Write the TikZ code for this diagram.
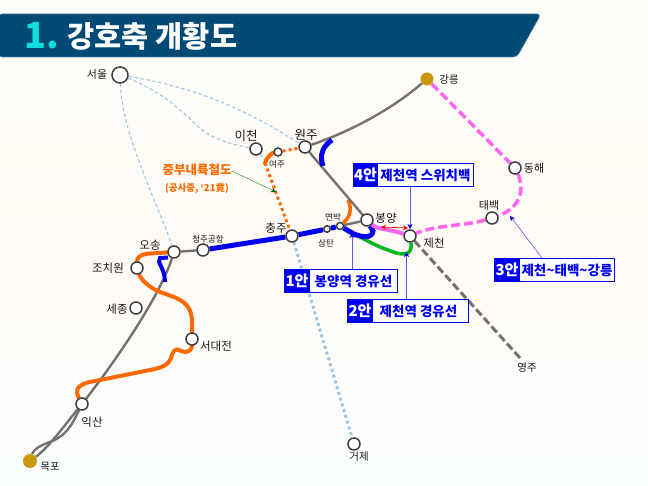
\documentclass[tikz,border=0pt]{standalone}
\usepackage{fontspec}
\setmainfont{Noto Sans CJK KR}
\usetikzlibrary{arrows.meta,calc}
\definecolor{navy}{HTML}{004A75}
\definecolor{cyanx}{HTML}{10DDDD}
\definecolor{ring}{HTML}{3E3E3E}
\definecolor{goldx}{HTML}{C9980F}
\definecolor{grayline}{HTML}{77716E}
\definecolor{sky}{HTML}{9CC6E8}
\definecolor{orangex}{HTML}{FF6A00}
\definecolor{pinkx}{HTML}{FF66EE}
\definecolor{greenx}{HTML}{00B81E}
\definecolor{bluex}{HTML}{0000F0}
\definecolor{ptr}{HTML}{5A5AF5}
\pgfdeclarelayer{bgl}
\pgfdeclarelayer{linel}
\pgfsetlayers{bgl,linel,main}
\tikzset{
  x=1pt,y=-1pt,
  st/.style={circle,draw=ring,line width=1.5pt,fill=white,inner sep=0pt,minimum size=#1},
  st/.default=11pt,
  gold/.style={circle,fill=goldx,inner sep=0pt,minimum size=#1},
  lab/.style={inner sep=0pt,text=black!90,font=\fontsize{#1}{#1}\selectfont},
  lab/.default=11pt,
  skydash/.style={draw=sky,line width=1.1pt,dash pattern=on 3.5pt off 2.5pt},
  skydot/.style={draw=sky,line width=3pt,dash pattern=on 3pt off 3pt},
  grayl/.style={draw=grayline,line width=2.4pt},
  graydash/.style={draw=grayline,line width=3pt,dash pattern=on 8pt off 3.5pt},
  orl/.style={draw=orangex,line width=4pt,line cap=round},
  ordot/.style={draw=orangex,line width=3pt,dash pattern=on 3pt off 3pt},
  pinkd/.style={draw=pinkx,line width=3.5pt,dash pattern=on 9pt off 4pt},
  pinkl/.style={draw=pinkx,line width=4pt},
  bluel/.style={draw=bluex,line width=5pt},
  greenl/.style={draw=greenx,line width=3.5pt},
  ptrl/.style={draw=ptr,line width=.6pt,-{Stealth[length=5pt,width=5pt,color=bluex]}},
  tag/.style={anchor=north west,fill=bluex,draw=bluex,line width=1pt,text=white,inner sep=0pt,font=\fontsize{15}{15}\selectfont\bfseries},
  body/.style={anchor=north west,fill=white,draw=bluex,line width=1pt,text=bluex,inner sep=0pt,font=\fontsize{13.5}{14}\selectfont\bfseries},
}
\begin{document}
\begin{tikzpicture}
\useasboundingbox (0,0) rectangle (648,486);
% stations
\node[st=16pt] (seoul) at (120,75) {};
\node[gold=13pt] (gangneung) at (427,79) {};
\node[st=12pt] (wonju) at (305,147) {};
\node[st=12pt] (icheon) at (256,149) {};
\node[st=8pt] (yeoju) at (278,152) {};
\node[st=12pt] (chungju) at (292,236) {};
\node[st=7pt] (yeonbak) at (340,226) {};
\node[st=6.5pt] (samtan) at (327,229) {};
\node[st=12pt] (bongyang) at (367,220) {};
\node[st=12pt] (jecheon) at (410,236) {};
\node[st=12pt] (donghae) at (515,168) {};
\node[st=12pt] (taebaek) at (492,218) {};
\node[st=12pt] (osong) at (174,252) {};
\node[st=12pt] (airport) at (203,250) {};
\node[st=12pt] (jochiwon) at (137,268) {};
\node[st=12pt] (sejong) at (136,308) {};
\node[st=12pt] (seodaejeon) at (192,339) {};
\node[st=12pt] (iksan) at (82,404) {};
\node[gold=14pt] (mokpo) at (30,461) {};
\node[st=12pt] (geoje) at (354,444) {};
\coordinate (yeongju) at (520,358);
% labels
\node[lab=11pt] (lseoul) at (97,74) {서울};
\node[lab=10.5pt] (lgang) at (449,80) {강릉};
\node[lab=12.5pt] (lwon) at (306,135) {원주};
\node[lab=12.5pt] (lice) at (246,136) {이천};
\node[lab=8.5pt] (lyeo) at (277,164) {여주};
\node[lab=11.5pt] (lchung) at (276,228) {충주};
\node[lab=8.5pt] (lyeon) at (333,217) {연박};
\node[lab=8.5pt] (lsam) at (326,243) {삼탄};
\node[lab=11.5pt] (lbong) at (386,218) {봉양};
\node[lab=11.5pt] (ljec) at (434,243) {제천};
\node[lab=11pt] (ldong) at (534,168) {동해};
\node[lab=11pt] (ltae) at (489,205) {태백};
\node[lab=11.5pt] (losong) at (150,245) {오송};
\node[lab=8.5pt] (lair) at (208,239) {청주공항};
\node[lab=11.5pt] (ljo) at (108,268) {조치원};
\node[lab=11.5pt] (lse) at (117,309) {세종};
\node[lab=11.5pt] (lseo) at (216,346) {서대전};
\node[lab=11.5pt] (lik) at (92,422) {익산};
\node[lab=10.5pt] (lmok) at (50,467) {목포};
\node[lab=10.5pt] (lgeo) at (359,457) {거제};
\node[lab=10.5pt] (lyeong) at (527,368) {영주};
% note
\node[inner sep=0pt,text=orangex,font=\fontsize{12.5}{13}\selectfont\bfseries] (jb) at (197,170) {중부내륙철도};
\node[inner sep=0pt,text=orangex,font=\fontsize{9.5}{10}\selectfont\bfseries] (jb2) at (197,189) {(공사중, `21竟)};
\coordinate (jbtip) at (276,192);
% boxes
\node[body,minimum width=96pt,minimum height=23pt] (b4) at (377,163) {제천역 스위치백};
\node[tag,minimum width=24pt,minimum height=23pt] (t4) at (353,163) {4안};
\node[body,minimum width=88pt,minimum height=23pt] (b1) at (309,269) {봉양역 경유선};
\node[tag,minimum width=25pt,minimum height=23pt] (t1) at (284,269) {1안};
\node[body,minimum width=96pt,minimum height=23pt] (b2) at (372,299) {\hspace{-4pt}제천역 경유선};
\node[tag,minimum width=25pt,minimum height=23pt] (t2) at (347,299) {2안};
\node[body,minimum width=95pt,minimum height=23pt] (b3) at (519,258) {제천\textasciitilde 태백\textasciitilde 강릉};
\node[tag,minimum width=25pt,minimum height=23pt] (t3) at (494,258) {3안};
\coordinate (tip4) at (410,229);
\coordinate (tip1) at (352,233);
\coordinate (tip2) at (406.5,252);
\coordinate (tip3) at (510,216);
\coordinate (tipL) at (381,227);
\coordinate (tipR) at (408,228);
\begin{pgfonlayer}{bgl}
\shade[top color=white!60!yellow!6!white,bottom color=black!6!cyan!2!white,middle color=white!96!orange] (0,0) rectangle (648,486);
\fill[navy,draw=navy!70!white,line width=.6pt,rounded corners=4pt] (-2,14) -- (541,14) -- (517,57) -- (-2,57) -- cycle;
\end{pgfonlayer}
\node[inner sep=0pt,anchor=west,text=cyanx,font=\fontsize{36}{36}\selectfont\bfseries] (num) at (24,35.5) {1.};
\node[inner sep=0pt,anchor=center,text=white,font=\fontsize{29.5}{30}\selectfont\bfseries] (title) at (152.5,36) {강호축 개황도};
\begin{pgfonlayer}{linel}
% light-blue dashed
\draw[skydash] (seoul) .. controls (200,88) and (250,112) .. (wonju);
\draw[skydash] (seoul) .. controls (170,95) and (190,120) .. (202,130) .. controls (215,140) and (235,145) .. (icheon);
\draw[skydash] (icheon) -- (266,162);
\draw[skydash] (seoul) .. controls (122,120) and (135,150) .. (150,190) .. controls (158,210) and (166,228) .. (osong);
\draw[skydot] (chungju) -- (geoje);
% orange under gray
\draw[draw=orangex,line width=3.5pt] (348,200) .. controls (353,210) and (349,218) .. (yeonbak);
% gray
\draw[grayl] (wonju) -- (bongyang);
\draw[grayl] (wonju) .. controls (340,135) and (385,115) .. (gangneung);
\draw[grayl] (bongyang) -- (yeonbak);
\draw[grayl] (osong) -- (airport);
\draw[grayl] (osong) .. controls (160,295) and (120,355) .. (iksan);
\draw[grayl] (iksan) .. controls (65,425) and (48,448) .. (mokpo);
\draw[grayl] (iksan) .. controls (72,425) and (66,437) .. (47,443) .. controls (37,447) and (33,451) .. (mokpo);
\draw[graydash] (jecheon) -- (yeongju);
% orange
\draw[orl] (osong) -- (150,253.5) .. controls (140,254) and (137,258) .. (jochiwon);
\draw[orl] (jochiwon) .. controls (141,280) and (150,288) .. (160,292) .. controls (180,299) and (192,302) .. (192,323) -- (seodaejeon);
\draw[orl] (seodaejeon) .. controls (192,350) and (187,354) .. (181,351) .. controls (174,347) and (173,352) .. (171,358) .. controls (168,366) and (160,368) .. (150,370) -- (95,381) .. controls (82,383) and (73,387) .. (iksan);
\draw[orl] (yeoju) .. controls (272,153) and (267,157) .. (265,163);
\draw[ordot] (265,163) -- (chungju);
\draw[ordot] (yeoju) -- (wonju);
% green
\draw[greenl] (345,229) .. controls (362,238) and (378,247) .. (388,250) .. controls (400,255) and (413,258) .. (jecheon);
% blue
\draw[bluel] (airport) -- (chungju);
\draw[bluel] (chungju) -- (samtan) -- (yeonbak);
\draw[bluel] (yeonbak) -- (354,234) .. controls (364,238) and (372,238) .. (373,231) -- (bongyang);
\draw[bluel] (332,140) .. controls (323,146) and (319,155) .. (323,166);
\draw[bluel,line width=4pt] (168,257.5) -- (160,258) .. controls (156,262) and (165,268) .. (165,282);
% pink
\draw[pinkl] (bongyang) .. controls (378,230) and (390,229) .. (jecheon);
\draw[pinkd] (gangneung) -- (donghae);
\draw[pinkd] (donghae) .. controls (525,190) and (520,208) .. (taebaek);
\draw[pinkd] (taebaek) .. controls (465,226) and (435,225) .. (jecheon);
% pointers
\draw[ptrl] (b4.south -| tip4) -- (tip4);
\draw[ptrl] (b1.north -| tip1) -- (tip1);
\draw[ptrl] (b2.north -| tip2) -- (tip2);
\draw[ptrl] ($(b3.north west)+(23,0)$) -- (tip3);
\draw[draw=red,line width=.7pt,{Stealth[length=5pt,width=5pt]}-{Stealth[length=5pt,width=5pt]}] (tipL) -- (tipR);
\draw[draw=green!50!black!80,line width=.5pt,-{Stealth[length=5pt,width=5pt,color=green!35!black]}] (jb.east) ++(0,1) -- (jbtip);
\end{pgfonlayer}
\end{tikzpicture}
\end{document}
